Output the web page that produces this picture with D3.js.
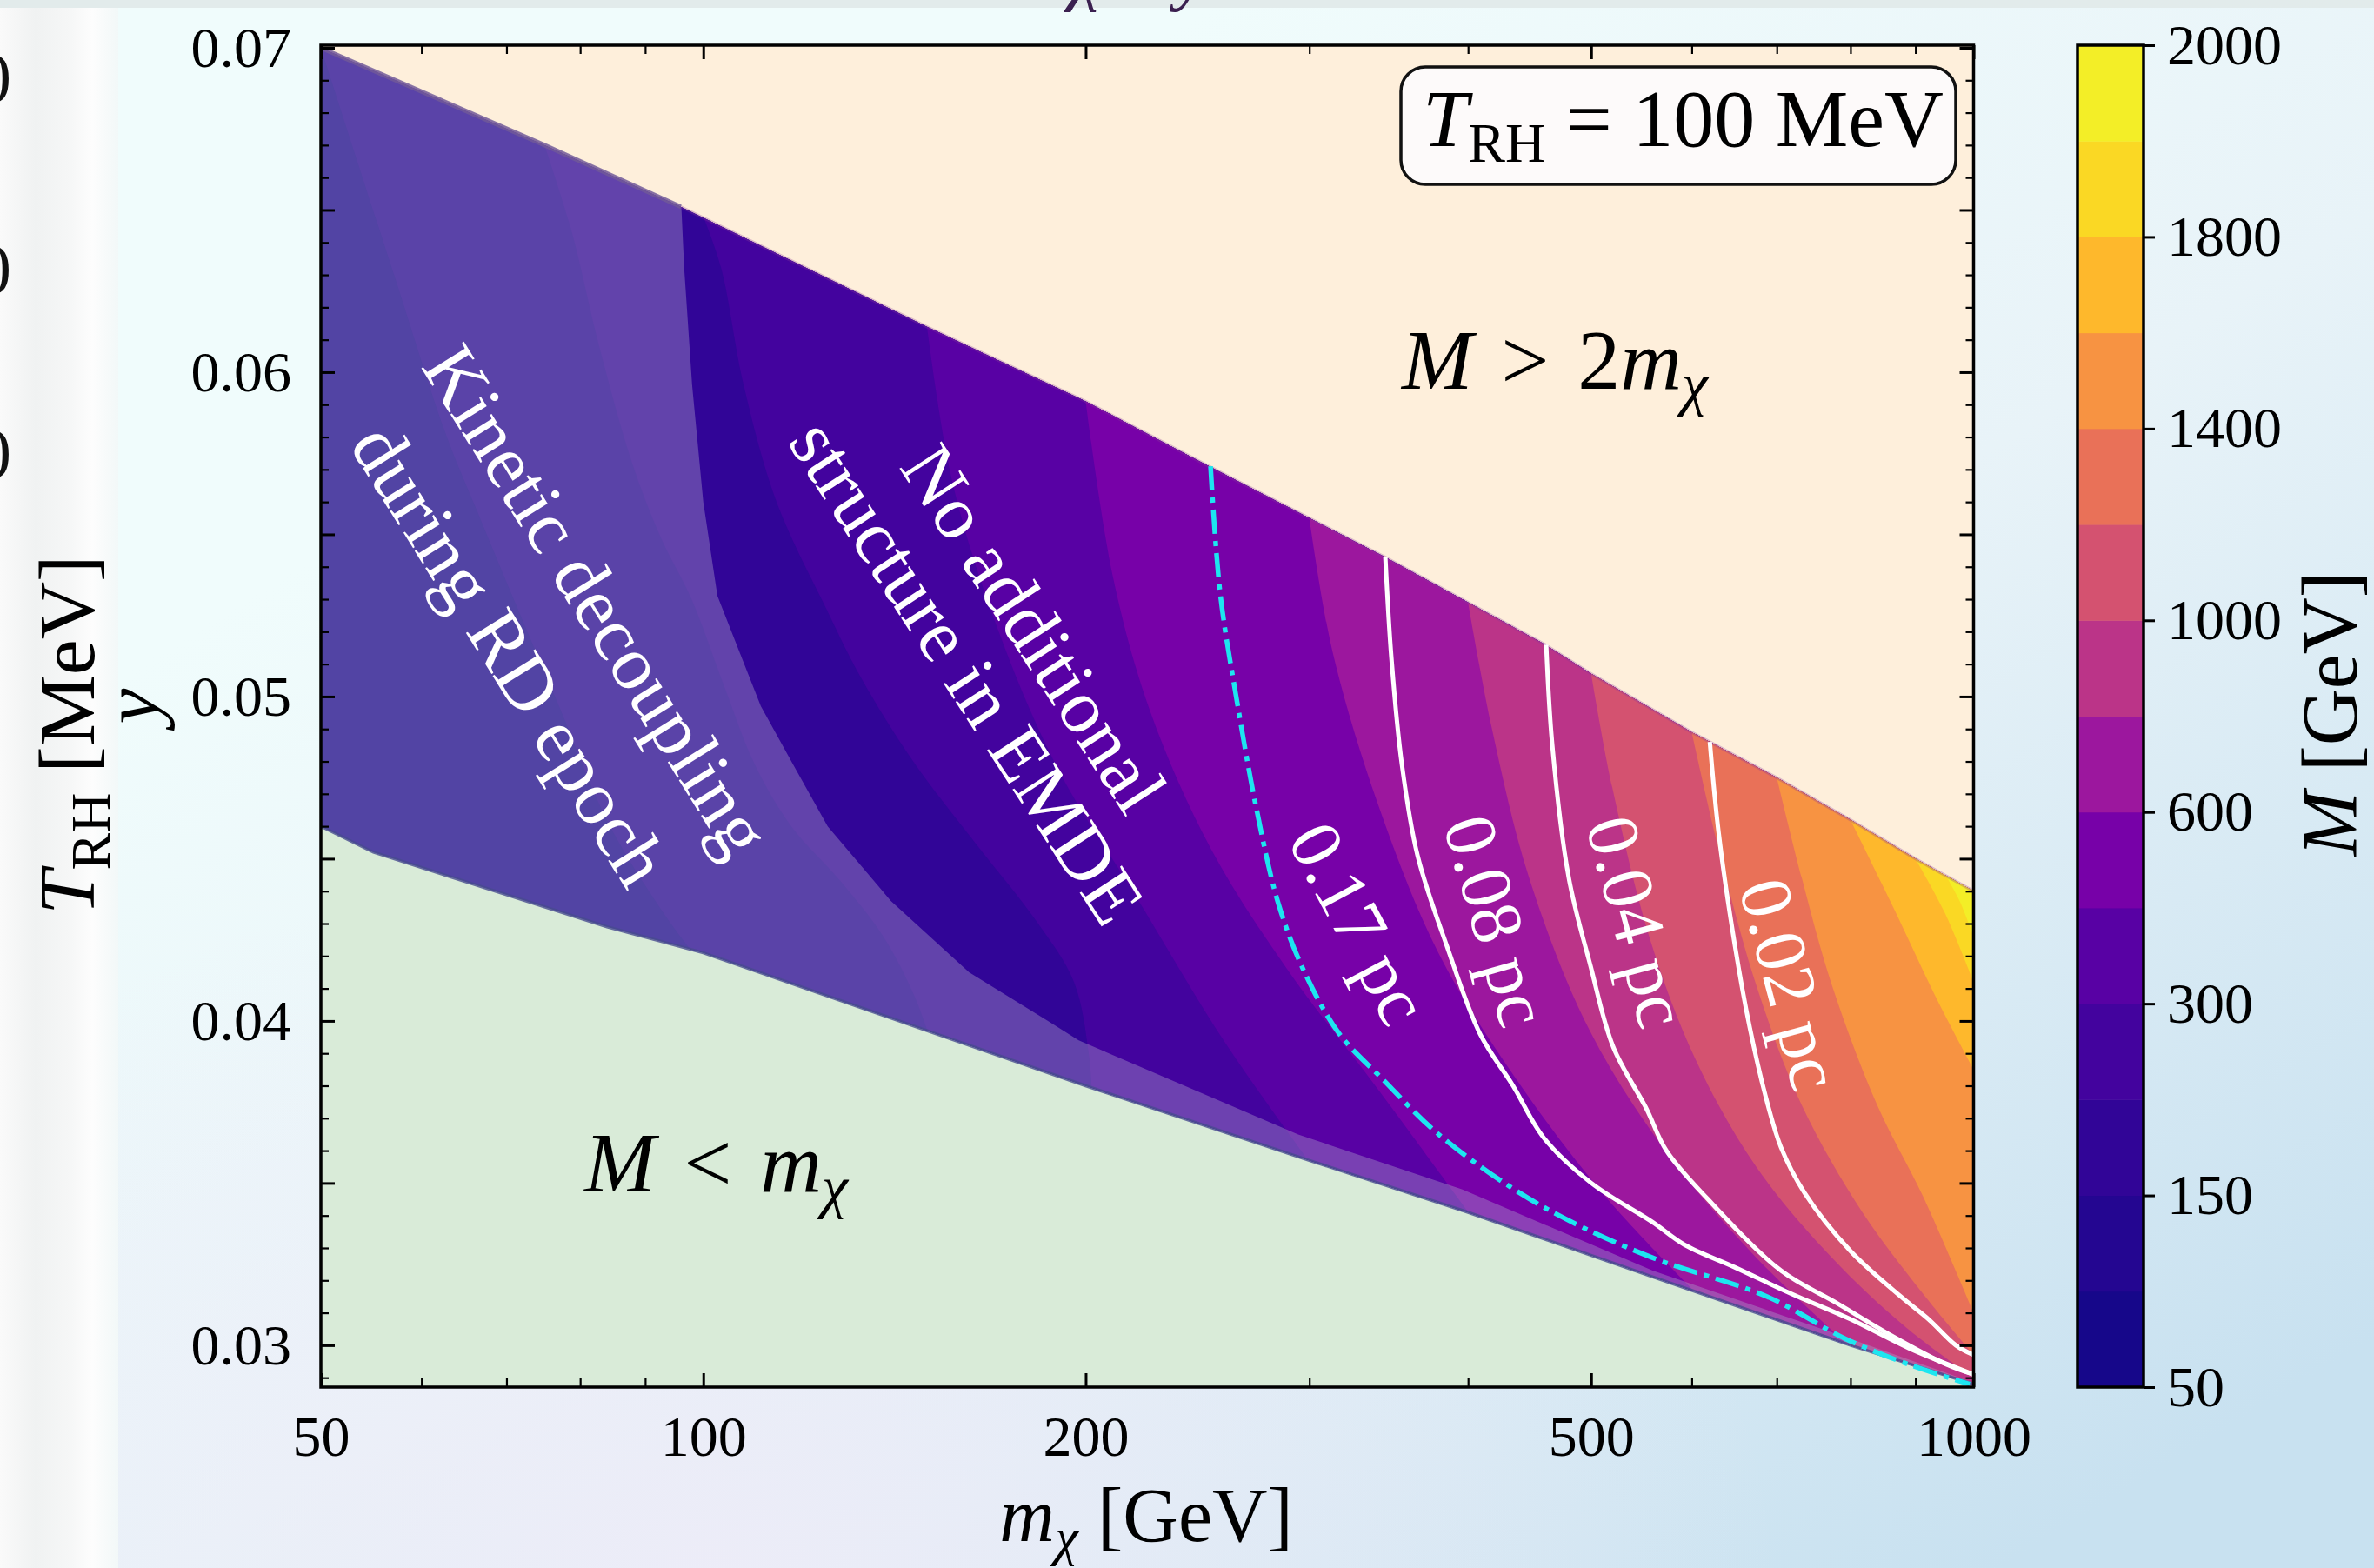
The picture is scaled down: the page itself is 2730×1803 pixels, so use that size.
<!DOCTYPE html>
<html><head><meta charset="utf-8">
<script src="https://cdn.jsdelivr.net/npm/d3@7"></script>
<style>html,body{margin:0;padding:0;overflow:hidden;background:#eefafa}</style>
</head><body><svg id="c" width="2730" height="1803"></svg>
<script>
// ---------------- data ----------------
const levels = [50,100,150,200,300,400,600,800,1000,1200,1400,1600,1800,1900,2000];
const cbTickIdx = [0,2,4,6,8,10,12,14];
const xMajor = [50,100,200,500,1000];
const xMinor = [60,70,80,90,300,400,600,700,800,900];
const yLabeled = [0.03,0.04,0.05,0.06,0.07];

// upper boundary (M = 2 m_chi) and lower boundary (M = m_chi)
const upperM = [50,75,96,150,200,250,300,344,400,460,500,600,700,800,900,1000];
const upperY = [0.0700,0.0670,0.0651,0.0614,0.0591,0.0571,0.0555,0.0543,0.0529,0.0516,0.0507,0.0489,0.0475,0.0462,0.0450,0.0440];
const lowerM = [50,55,84,100,150,200,300,400,560,800,1000];
const lowerY = [0.0460,0.0452,0.0429,0.0421,0.0397,0.0380,0.0357,0.0341,0.0321,0.0300,0.0288];

// right edge of the "kinetic decoupling during RD" region (incl. thin strip along M = m_chi)
const kdM = [96.1,96.6,98,100,102.6,111,117.7,125.3,140.5,161.9,186.8,197.5,294,396,559,800,1000];
const kdY = [0.0651,0.0632,0.0596,0.0560,0.0531,0.0497,0.0479,0.0460,0.0437,0.0415,0.0400,0.0394,0.0365,0.0348,0.0323,0.0302,0.02885];

// contours of M (GeV), [m_chi, y]
const c100  = [[50,0.0700],[57.1,0.0630],[62.7,0.0581],[66.4,0.0557],[71.1,0.0529],[77.0,0.0497],[84.2,0.0461],[93.9,0.0431],[100.5,0.0416]];
const c150  = [[75,0.0670],[78.7,0.0644],[82.8,0.0608],[87.9,0.0572],[92.6,0.0549],[97.9,0.0530],[103.9,0.0503],[109.8,0.0479],[117.3,0.0460],[128.3,0.0443],[138.6,0.0426],[146.5,0.0408],[151,0.0394]];
const c200  = [[100,0.0648],[103.3,0.0632],[107.6,0.0596],[114.2,0.0560],[125.0,0.0527],[133.0,0.0506],[146.3,0.0480],[163.6,0.0455],[182.7,0.0431],[195.8,0.0412],[201.1,0.0390],[202.4,0.0376]];
const c300  = [[150,0.0614],[157.3,0.0565],[171.2,0.0519],[190.6,0.0477],[218.6,0.0439],[257.8,0.0393],[302,0.0355]];
const c400  = [[200,0.0591],[210.1,0.0537],[225,0.0495],[251,0.0453],[288.1,0.0416],[339.6,0.0379],[402,0.0340]];
const c600  = [[300,0.0555],[312.8,0.0514],[339.6,0.0467],[379,0.0421],[434.8,0.0383],[512.6,0.0346],[605,0.0316]];
const c800  = [[400,0.0529],[417.2,0.0491],[446.9,0.0444],[498.7,0.0397],[572,0.0360],[674.5,0.0327],[802,0.0299]];
const c1000 = [[500,0.0507],[519.5,0.0472],[556.5,0.0425],[604.4,0.0388],[674.5,0.0355],[773.6,0.0327],[888,0.0305],[1000,0.0290]];
const c1200 = [[600,0.0489],[630,0.0453],[674.5,0.0411],[732.5,0.0374],[817.5,0.0341],[912,0.0316],[1000,0.0297]];
const c1400 = [[700,0.0475],[732.5,0.0444],[773.6,0.0411],[839.9,0.0374],[912.2,0.0346],[1000,0.0310]];
const c1600 = [[800,0.0462],[867,0.0434],[932,0.0408],[1000,0.0385]];
const c1800 = [[900,0.0450],[950,0.0433],[1000,0.0412]];
const c1900 = [[950,0.0445],[975,0.0437],[1000,0.0426]];

// size contours (pc)
const pc017 = [[250.8,0.0571],[255.2,0.0532],[263,0.0499],[272.7,0.0465],[283.7,0.0436],[297.4,0.0415],[316.8,0.0396],[342.7,0.0382],[376.7,0.0366],[427.3,0.0350],[477.2,0.0339],[558.7,0.0327],[687.9,0.0315],[792.7,0.0302],[890.6,0.0294],[993,0.0288]];
const pc008 = [[344.3,0.0543],[348.1,0.0512],[354.8,0.0479],[365,0.0451],[385,0.0423],[408.8,0.0396],[434,0.0380],[458.8,0.0364],[500.2,0.0350],[558.7,0.0338],[592,0.0331],[649,0.0324],[717.6,0.0316],[800.3,0.0308],[890.6,0.0299],[1000,0.0291]];
const pc004 = [[460.9,0.0516],[466,0.0485],[480.2,0.0444],[499.4,0.0417],[520.4,0.0392],[552.6,0.0373],[573.1,0.0360],[618,0.0345],[705.4,0.0323],[780.4,0.0313],[861.5,0.0303],[953,0.0294],[1000,0.0291]];
const pc002 = [[620,0.0486],[630,0.0458],[649,0.0423],[666.5,0.0398],[685.7,0.0377],[705.4,0.0361],[736.1,0.0347],[800.3,0.0329],[876.6,0.0315],[921.8,0.0308],[968.3,0.0300],[1000,0.0297]];

// ---------------- setup ----------------
const W = 2730, H = 1803;
const P = {l:369, r:2269.5, t:52, b:1595};
const serif = "'Liberation Serif','Times New Roman',serif";
const svg = d3.select('#c');
const defs = svg.append('defs');

const x = d3.scaleLog().domain([50,1000]).range([P.l,P.r]);
const y = d3.scaleLinear().domain([0.02871,0.07008]).range([P.b,P.t]);
const bandColor = i => d3.interpolatePlasma((((levels[i]+levels[i+1])/2) - 50)/1950);

// ---------------- background ----------------
const bg = defs.append('linearGradient').attr('id','bg').attr('x1',0.3).attr('y1',0.2).attr('x2',0.95).attr('y2',0.9);
bg.append('stop').attr('offset',0).attr('stop-color','#f0fcfc');
bg.append('stop').attr('offset',0.45).attr('stop-color','#e8f3f8');
bg.append('stop').attr('offset',1).attr('stop-color','#c8e1f0');
svg.append('rect').attr('width',W).attr('height',H).attr('fill','url(#bg)');
const rg = defs.append('radialGradient').attr('id','lav').attr('cx',0.3).attr('cy',1).attr('r',0.45);
rg.append('stop').attr('offset',0).attr('stop-color','#eeecf8').attr('stop-opacity',0.9);
rg.append('stop').attr('offset',1).attr('stop-color','#eeecf8').attr('stop-opacity',0);
svg.append('rect').attr('width',W).attr('height',H).attr('fill','url(#lav)');
const ls = defs.append('linearGradient').attr('id','ls').attr('x1',0).attr('x2',1).attr('y1',0).attr('y2',0);
[['0','#fafafa'],['0.3','#f0f2f2'],['0.6','#f6f7f7'],['0.78','#fdfdfd'],['1','#f2f8f8']].forEach(s=>ls.append('stop').attr('offset',s[0]).attr('stop-color',s[1]));
svg.append('rect').attr('x',0).attr('y',0).attr('width',136).attr('height',H).attr('fill','url(#ls)');
svg.append('rect').attr('x',0).attr('y',0).attr('width',W).attr('height',9).attr('fill','#e2ebeb');
[90,310,522].forEach(c=>svg.append('text').attr('x',13).attr('y',c+27).attr('text-anchor','end')
  .attr('font-family',serif).attr('font-size',80).attr('fill','#111').text('0'));
svg.append('text').attr('x',1230).attr('y',-4).attr('font-family',serif).attr('font-style','italic')
  .attr('font-size',84).attr('fill','#3b2050').text('χ');
svg.append('text').attr('x',1352).attr('y',-4).attr('font-family',serif).attr('font-style','italic')
  .attr('font-size',84).attr('fill','#3b2050').text('y');

// ---------------- plot area ----------------
defs.append('clipPath').attr('id','plotClip').append('rect')
  .attr('x',P.l).attr('y',P.t).attr('width',P.r-P.l).attr('height',P.b-P.t);
const upperPts = upperM.map((m,i)=>[x(m),y(upperY[i])]);
const lowerPts = lowerM.map((m,i)=>[x(m),y(lowerY[i])]);
const lin = d3.line();
const smooth = d3.line().curve(d3.curveCatmullRom.alpha(0.5));
defs.append('clipPath').attr('id','regClip').append('path')
  .attr('d', lin(upperPts.concat(lowerPts.slice().reverse())) + 'Z');

const plot = svg.append('g').attr('clip-path','url(#plotClip)');
plot.append('rect').attr('x',P.l).attr('y',P.t).attr('width',P.r-P.l).attr('height',P.b-P.t).attr('fill','#feefdb');
plot.append('path').attr('fill','#d9ebd8')
  .attr('d', lin(lowerPts.concat([[P.r+50,lowerPts[lowerPts.length-1][1]],[P.r+50,P.b+50],[P.l-50,P.b+50],[P.l-50,lowerPts[0][1]]]))+'Z');

const reg = plot.append('g').attr('clip-path','url(#regClip)');
reg.append('rect').attr('x',P.l-10).attr('y',P.t-10).attr('width',P.r-P.l+20).attr('height',P.b-P.t+20).attr('fill',bandColor(0));
const contours = [c100,c150,c200,c300,c400,c600,c800,c1000,c1200,c1400,c1600,c1800,c1900];
contours.forEach((c,k)=>{
  const px = c.map(p=>[x(p[0]),y(p[1])]);
  const f = px[0], l = px[px.length-1];
  const d = `M${f[0]},${P.t-100}` + smooth(px).replace(/^M/,'L') +
    `L${l[0]},${P.b+100}L${P.r+100},${P.b+100}L${P.r+100},${P.t-100}Z`;
  reg.append('path').attr('d',d).attr('fill',bandColor(k+1));
});
// kinetic-decoupling overlay
const kdPts = upperPts.filter((p,i)=>upperM[i]<96.1).concat(kdM.map((m,i)=>[x(m),y(kdY[i])]));
reg.append('path').attr('d', lin(kdPts.concat(lowerPts.slice().reverse()))+'Z')
  .attr('fill','rgb(172,160,202)').attr('fill-opacity',0.4);

// boundary edges
plot.append('path').attr('d',lin(upperPts)).attr('fill','none').attr('stroke','#8a3a98').attr('stroke-opacity',0.3).attr('stroke-width',3.5);
plot.append('path').attr('d',lin(upperPts.filter((p,i)=>upperM[i]<=96))).attr('fill','none').attr('stroke','#6f5a98').attr('stroke-width',5).attr('stroke-opacity',0.8);
plot.append('path').attr('d',lin(lowerPts)).attr('fill','none').attr('stroke','#474b8e').attr('stroke-width',3.5).attr('stroke-opacity',0.8);

// size contours
const toPx = a => a.map(p=>[x(p[0]),y(p[1])]);
[pc008,pc004,pc002].forEach(c=>plot.append('path').attr('d',smooth(toPx(c))).attr('fill','none')
  .attr('stroke','#ffffff').attr('stroke-width',5));
plot.append('path').attr('d',smooth(toPx(pc017))).attr('fill','none').attr('stroke','#1de6f0')
  .attr('stroke-width',5.5).attr('stroke-dasharray','28,8,6,8');

// annotations
function rotText(cx,cy,ang,lines,size,gap,fill){
  const g = svg.append('g').attr('transform',`translate(${cx},${cy}) rotate(${ang})`);
  const n = lines.length;
  lines.forEach((t,i)=>g.append('text').attr('x',0).attr('y',(i-(n-1)/2)*gap + size*0.33)
    .attr('text-anchor','middle').attr('font-family',serif).attr('font-size',size).attr('fill',fill).text(t));
}
rotText(636,722,58,['Kinetic decoupling','during RD epoch'],88,118,'#fff');
rotText(1150,748,57,['No additional','structure in EMDE'],88,92,'#fff');
rotText(1562,1062,62,['0.17 pc'],84,0,'#fff');
rotText(1720,1059,74,['0.08 pc'],84,0,'#fff');
rotText(1882,1060,75,['0.04 pc'],84,0,'#fff');
rotText(2058,1132,75,['0.02 pc'],84,0,'#fff');

function mathLabel(sel, parts){
  parts.forEach(p=>{const t=sel.append('tspan').text(p[0]); if(p[1]) t.attr('font-style','italic');
    if(p[2]) t.attr('font-size',p[2]); if(p[3]) t.attr('dy',p[3]);});
}
const t1 = svg.append('text').attr('x',1612).attr('y',447).attr('font-family',serif).attr('font-size',98).attr('fill','#000');
mathLabel(t1,[['M',1],['\u2004>\u20042',0],['m',1],['χ',1,68,18]]);
const t2 = svg.append('text').attr('x',672).attr('y',1370).attr('font-family',serif).attr('font-size',98).attr('fill','#000');
mathLabel(t2,[['M',1],['\u2004<\u2004',0],['m',1],['χ',1,68,18]]);

// ---------------- axes ----------------
function styleAx(g,w){
  g.select('.domain').remove();
  g.selectAll('line').attr('stroke','#000').attr('stroke-width',w);
  g.selectAll('text').attr('font-family',serif).attr('font-size',66).attr('fill','#000');
}
const yMajor = d3.range(0,9).map(i=>+(0.03+0.005*i).toFixed(3));
const yMinor = d3.range(29,71).map(i=>+(i/1000).toFixed(3)).filter(v=>!yMajor.some(m=>Math.abs(m-v)<1e-9));
const fmtY = v => yLabeled.some(m=>Math.abs(m-v)<1e-9) ? d3.format('.2f')(v) : '';
svg.append('g').attr('transform',`translate(${P.l},0)`).call(d3.axisLeft(y).tickValues(yMajor).tickSize(-16).tickPadding(34).tickFormat(fmtY)).call(g=>styleAx(g,3));
svg.append('g').attr('transform',`translate(${P.l},0)`).call(d3.axisLeft(y).tickValues(yMinor).tickSize(-9).tickFormat('')).call(g=>styleAx(g,2.2));
svg.append('g').attr('transform',`translate(${P.r},0)`).call(d3.axisRight(y).tickValues(yMajor).tickSize(-16).tickFormat('')).call(g=>styleAx(g,3));
svg.append('g').attr('transform',`translate(${P.r},0)`).call(d3.axisRight(y).tickValues(yMinor).tickSize(-9).tickFormat('')).call(g=>styleAx(g,2.2));
svg.append('g').attr('transform',`translate(0,${P.b})`).call(d3.axisBottom(x).tickValues(xMajor).tickSize(-16).tickPadding(32).tickFormat(d3.format('d'))).call(g=>styleAx(g,3));
svg.append('g').attr('transform',`translate(0,${P.b})`).call(d3.axisBottom(x).tickValues(xMinor).tickSize(-10).tickFormat('')).call(g=>styleAx(g,2.2));
svg.append('g').attr('transform',`translate(0,${P.t})`).call(d3.axisTop(x).tickValues(xMajor).tickSize(-16).tickFormat('')).call(g=>styleAx(g,3));
svg.append('g').attr('transform',`translate(0,${P.t})`).call(d3.axisTop(x).tickValues(xMinor).tickSize(-10).tickFormat('')).call(g=>styleAx(g,2.2));
svg.append('rect').attr('x',P.l).attr('y',P.t).attr('width',P.r-P.l).attr('height',P.b-P.t)
  .attr('fill','none').attr('stroke','#000').attr('stroke-width',3.5);

// axis labels
const xl = svg.append('text').attr('x',1318).attr('y',1772).attr('text-anchor','middle').attr('font-family',serif).attr('font-size',88).attr('fill','#000');
mathLabel(xl,[['m',1],['χ',1,62,16],[' [GeV]',0,88,-16]]);
svg.append('text').attr('transform','translate(182,812) rotate(-90)').attr('text-anchor','middle')
  .attr('font-family',serif).attr('font-size',92).attr('font-style','italic').attr('fill','#000').text('y');
const tl = svg.append('text').attr('transform','translate(108,845) rotate(-90)').attr('text-anchor','middle')
  .attr('font-family',serif).attr('font-size',92).attr('fill','#000');
mathLabel(tl,[['T',1],['RH',0,64,18],[' [MeV]',0,92,-18]]);

// T_RH box
svg.append('rect').attr('x',1611).attr('y',77).attr('width',638).attr('height',135).attr('rx',28)
  .attr('fill','#fdfafa').attr('stroke','#111').attr('stroke-width',3.5);
const bt = svg.append('text').attr('x',1636).attr('y',168).attr('font-family',serif).attr('font-size',94).attr('fill','#000');
mathLabel(bt,[['T',1],['RH',0,64,18],[' = 100 MeV',0,94,-18]]);

// ---------------- colorbar ----------------
const CB = {l:2389, r:2465};
const cy = d3.scaleLinear().domain([0,levels.length-1]).range([P.b,P.t]);
d3.range(levels.length-1).forEach(i=>svg.append('rect').attr('x',CB.l).attr('y',cy(i+1)).attr('width',CB.r-CB.l)
  .attr('height',cy(i)-cy(i+1)+0.5).attr('fill',bandColor(i)));
svg.append('rect').attr('x',CB.l).attr('y',P.t).attr('width',CB.r-CB.l).attr('height',P.b-P.t)
  .attr('fill','none').attr('stroke','#000').attr('stroke-width',3.5);
svg.append('g').attr('transform',`translate(${CB.r},0)`).call(d3.axisRight(cy).tickValues(cbTickIdx).tickSize(13).tickPadding(14).tickFormat(i=>levels[i])).call(g=>styleAx(g,3));
const cl = svg.append('text').attr('transform','translate(2710,821) rotate(-90)').attr('text-anchor','middle')
  .attr('font-family',serif).attr('font-size',90).attr('fill','#000');
mathLabel(cl,[['M',1],[' [GeV]',0]]);
</script></body></html>
